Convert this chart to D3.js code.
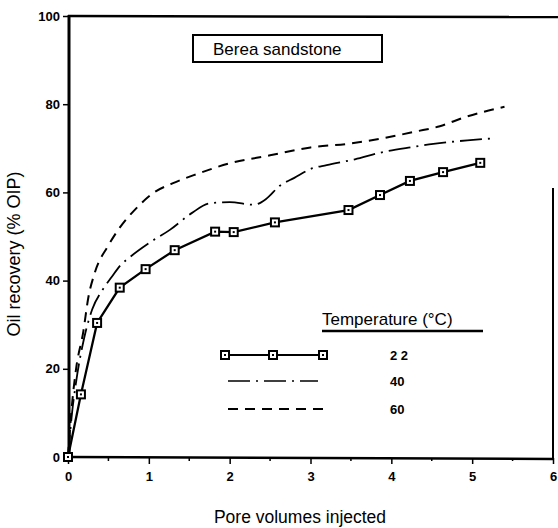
<!DOCTYPE html>
<html><head><meta charset="utf-8">
<script src="https://cdn.jsdelivr.net/npm/d3@7"></script>
<style>
html,body{margin:0;padding:0;background:#fff;}
svg{display:block;font-family:"Liberation Sans",Arial,sans-serif;}
</style></head>
<body><svg id="c" width="558" height="528"></svg>
<script>
// ---- data ----
const xTicks = [0,1,2,3,4,5,6];
const yTicks = [0,20,40,60,80,100];
const seriesNames = ["2 2","40","60"];
const t22 = [[0,0],[0.16,14.2],[0.36,30.4],[0.64,38.4],[0.96,42.6],[1.32,46.9],[1.82,51.1],[2.05,51],[2.56,53.2],[3.47,56],[3.86,59.4],[4.23,62.6],[4.64,64.6],[5.1,66.7]];
const t40 = [[0,0],[0.05,10],[0.1,17],[0.2,27],[0.3,33.5],[0.43,38],[0.54,40.8],[0.64,43.3],[0.77,45.4],[1,48.5],[1.26,51.5],[1.53,55.3],[1.75,57.5],[2.0,57.8],[2.3,57.2],[2.45,58.5],[2.62,61.5],[2.8,63.3],[3.0,65.3],[3.2,66.2],[3.55,67.5],[3.86,69],[4.27,70.3],[4.52,71],[4.94,71.8],[5.22,72.2]];
const t60 = [[0,0],[0.05,12],[0.1,20],[0.19,28.5],[0.25,36],[0.33,41.7],[0.5,48],[0.64,52],[0.85,56.5],[1.05,59.8],[1.3,62.1],[1.6,64.2],[2,66.6],[2.5,68.4],[3,70.2],[3.5,71.1],[3.9,72.3],[4.3,73.8],[4.6,75],[4.9,77],[5.4,79.4]];
const boxTitle = "Berea sandstone";
const legendTitle = "Temperature (\u00B0C)";
const xLabel = "Pore volumes injected";
const yLabel = "Oil recovery (% OIP)";

// ---- layout ----
const svg = d3.select("#c");
const x = d3.scaleLinear().domain([0,6]).range([68,553]);
const y = d3.scaleLinear().domain([0,100]).range([457,16]);
const g = svg.append("g");

// frame
g.append("line").attr("x1",x(0)+1).attr("x2",x(0)+1).attr("y1",y(100)-1).attr("y2",y(0)+1).attr("stroke","#000").attr("stroke-width",3);
g.append("line").attr("x1",x(0)).attr("x2",558).attr("y1",y(100)).attr("y2",y(100)+1).attr("stroke","#000").attr("stroke-width",2.5);
g.append("line").attr("x1",x(0)).attr("x2",x(6)).attr("y1",y(0)).attr("y2",y(0)+2).attr("stroke","#000").attr("stroke-width",2.5);
g.append("line").attr("x1",x(6)).attr("x2",x(6)).attr("y1",y(61)).attr("y2",y(0)+2).attr("stroke","#000").attr("stroke-width",2);

// axes
const xAxis = d3.axisBottom(x).tickValues(xTicks).tickSize(6).tickPadding(8).tickFormat(d3.format("d"));
const gx = g.append("g").attr("transform",`translate(0,${y(0)+1})`).call(xAxis);
gx.select(".domain").remove();
gx.selectAll("line").attr("stroke-width",1.5);
gx.selectAll("text").attr("font-size",13).attr("font-weight","bold").attr("fill","#000");
const minorX = d3.range(0.5,6,1);
g.selectAll(".mx").data(minorX).enter().append("line")
  .attr("x1",d=>x(d)).attr("x2",d=>x(d)).attr("y1",y(0)+1).attr("y2",y(0)+4).attr("stroke","#000").attr("stroke-width",1.5);

const yAxis = d3.axisLeft(y).tickValues(yTicks).tickSize(5).tickPadding(3).tickFormat(d3.format("d"));
const gy = g.append("g").attr("transform",`translate(${x(0)},0)`).call(yAxis);
gy.select(".domain").remove();
gy.selectAll("line").attr("stroke-width",1.5);
gy.selectAll("text").attr("font-size",13).attr("font-weight","bold").attr("fill","#000");

// axis labels
svg.append("text").attr("x",300).attr("y",523).attr("text-anchor","middle").attr("font-size",17.5).text(xLabel);
svg.append("text").attr("transform","translate(20,254) rotate(-90)").attr("text-anchor","middle").attr("font-size",18).text(yLabel);

// series
const line = d3.line().x(d=>x(d[0])).y(d=>y(d[1]));
const smooth = d3.line().x(d=>x(d[0])).y(d=>y(d[1])).curve(d3.curveMonotoneX);
g.append("path").datum(t60).attr("d",smooth).attr("fill","none").attr("stroke","#000").attr("stroke-width",2).attr("stroke-dasharray","10,7");
g.append("path").datum(t40).attr("d",smooth).attr("fill","none").attr("stroke","#000").attr("stroke-width",1.8).attr("stroke-dasharray","22,6,2,6");
g.append("path").datum(t22).attr("d",line).attr("fill","none").attr("stroke","#000").attr("stroke-width",2.3);
function square(sel){
  sel.append("rect").attr("x",-4).attr("y",-4).attr("width",8).attr("height",8).attr("fill","#fff").attr("stroke","#000").attr("stroke-width",2);
  sel.append("rect").attr("x",-1).attr("y",-1).attr("width",2).attr("height",2).attr("fill","#000");
}
g.selectAll(".pt").data(t22).enter().append("g").attr("transform",d=>`translate(${x(d[0])},${y(d[1])})`).call(square);

// box title
svg.append("rect").attr("x",193).attr("y",35).attr("width",189).attr("height",27).attr("fill","#fff").attr("stroke","#000").attr("stroke-width",2);
svg.append("text").attr("x",213).attr("y",55).attr("font-size",17).text(boxTitle);

// legend
svg.append("text").attr("x",322).attr("y",325).attr("font-size",17).text(legendTitle);
svg.append("line").attr("x1",322).attr("x2",483).attr("y1",331).attr("y2",331).attr("stroke","#000").attr("stroke-width",2.5);
const legY = [355,381,409];
svg.append("line").attr("x1",225).attr("x2",323).attr("y1",legY[0]).attr("y2",legY[0]).attr("stroke","#000").attr("stroke-width",1.8);
[225,273,323].forEach(px=>svg.append("g").attr("transform",`translate(${px},${legY[0]})`).call(square));
svg.append("line").attr("x1",228).attr("x2",318).attr("y1",legY[1]).attr("y2",legY[1]).attr("stroke","#000").attr("stroke-width",1.6).attr("stroke-dasharray","22,6,2,6");
svg.append("line").attr("x1",228).attr("x2",326).attr("y1",legY[2]).attr("y2",legY[2]).attr("stroke","#000").attr("stroke-width",2).attr("stroke-dasharray","10,7");
seriesNames.forEach((n,i)=>svg.append("text").attr("x",390).attr("y",legY[i]+5).attr("font-size",13).attr("font-weight","bold").text(n));
</script></body></html>
